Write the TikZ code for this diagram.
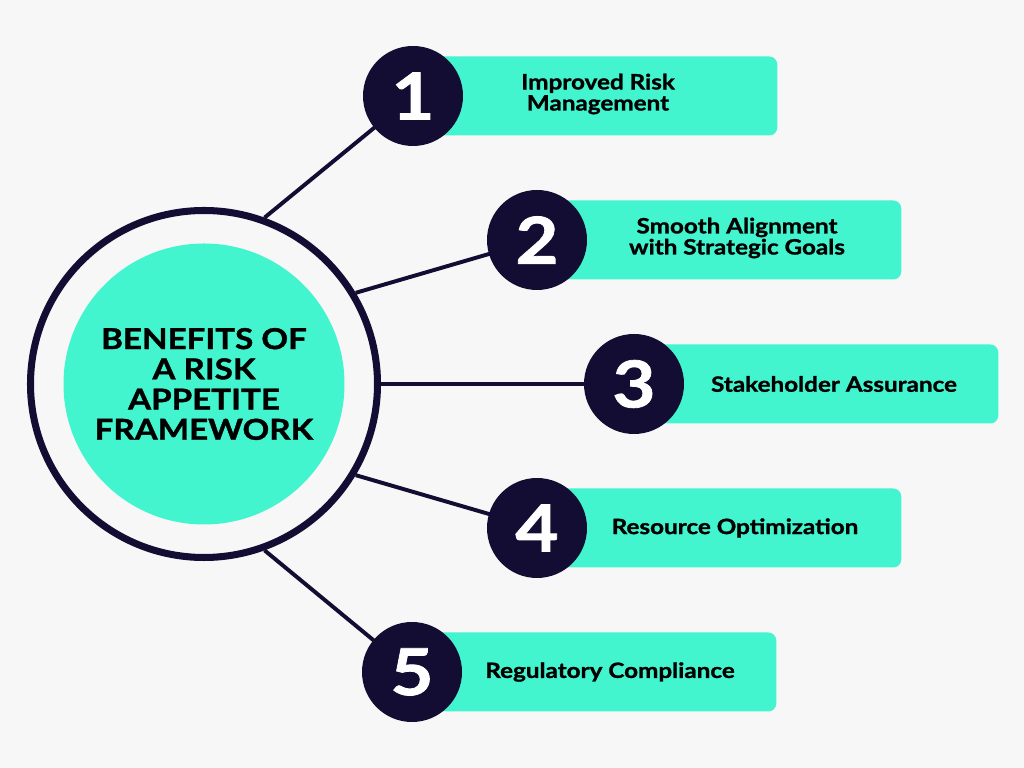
\documentclass[tikz,border=0pt]{standalone}
\usepackage{fontspec}
\setmainfont{Lato}[FakeStretch=1.15, BoldFeatures={FakeBold=1.2}]
\usepackage{tikz}
\usetikzlibrary{shapes,positioning,calc}

\definecolor{navy}{HTML}{130D33}
\definecolor{mint}{HTML}{42F5CF}
\definecolor{paper}{HTML}{F7F7F7}

\begin{document}
\begin{tikzpicture}[
		numdot/.style={circle, fill=navy, minimum size=2.5cm, inner sep=0,
			text=white, font=\fontsize{46}{46}\selectfont\bfseries},
		bar/.style={fill=mint, rounded corners=0.2cm, anchor=west,
			minimum width=9.1cm, minimum height=1.975cm, inner sep=0},
		benefit/.style={align=center, text=black,
			font=\fontsize{15}{15}\selectfont\bfseries},
		spoke/.style={draw=navy, line width=2.8pt}
	]
		\useasboundingbox (0,0) rectangle (25.6,19.2);
		\fill[paper] (0,0) rectangle (25.6,19.2);

		% centre
		\node[draw=navy,
			circle,
			line width=5pt,
			minimum size=8.675cm] (ring) at (5.1,9.6) {};

		\node[fill=mint,
			circle,
			minimum size=7.025cm,
			align=center,
			font=\fontsize{20.5}{21.5}\selectfont\bfseries] (core) at (ring) {BENEFITS OF\\A RISK\\APPETITE\\FRAMEWORK};

		\coordinate (c1) at (10.325,16.8);
		\coordinate (c2) at (13.425,13.2);
		\coordinate (c3) at (15.85,9.6);
		\coordinate (c4) at (13.425,6.0);
		\coordinate (c5) at (10.3,2.4);

		% bars
		\node[bar] (bar1) at (c1) {};
		\node[bar] (bar2) at (c2) {};
		\node[bar] (bar3) at (c3) {};
		\node[bar] (bar4) at (c4) {};
		\node[bar] (bar5) at (c5) {};

		\node[benefit] (txt1) at ([xshift=4.625cm,yshift=0.05cm]c1) {Improved Risk\\Management};
		\node[benefit] (txt2) at ([xshift=5cm,yshift=0.05cm]c2) {Smooth Alignment\\with Strategic Goals};
		\node[benefit] (txt3) at ([xshift=5cm]c3) {Stakeholder Assurance};
		\node[benefit] (txt4) at ([xshift=4.95cm]c4) {Resource Optimization};
		\node[benefit] (txt5) at ([xshift=4.95cm]c5) {Regulatory Compliance};

		% spokes
		\draw[spoke] (ring.70) -- (c1)
		(ring.31) -- (c2)
		(ring.0) -- (c3)
		(ring.-31) -- (c4)
		(ring.-70) -- (c5);

		% numbers
		\node[numdot] (n1) at (c1) {1};
		\node[numdot] (n2) at (c2) {2};
		\node[numdot] (n3) at (c3) {3};
		\node[numdot] (n4) at (c4) {4};
		\node[numdot] (n5) at (c5) {5};

	\end{tikzpicture}
\end{document}
